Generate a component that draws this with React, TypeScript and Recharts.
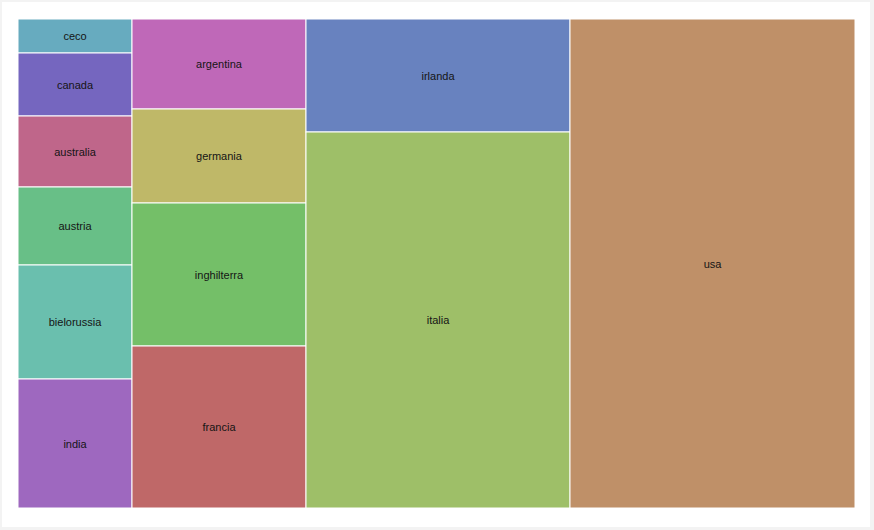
import { Treemap } from 'recharts'

const countries = ['ceco', 'canada', 'australia', 'austria', 'bielorussia', 'india', 'argentina', 'germania', 'inghilterra', 'francia', 'irlanda', 'italia', 'usa']
const counts = [39, 72, 81, 89, 130, 147, 157, 164, 249, 282, 298, 993, 1394]
const palette = ['#67abbf', '#7566bf', '#bf668a', '#68bf87', '#6abfae', '#9e68bf', '#bf68b8', '#bfb868', '#74bf68', '#bf6868', '#6882bf', '#9ebf68', '#bf9068']

const data = countries.map((name, i) => ({ name, size: counts[i], color: palette[i] }))

function Cell(props: any) {
  const { x, y, width, height, name, color, depth } = props
  if (depth !== 1) return null
  return (
    <g>
      <rect x={x} y={y} width={width} height={height} fill={color} stroke="#fff" strokeWidth={1} />
      <text
        x={x + width / 2}
        y={y + height / 2 + 4}
        textAnchor="middle"
        fontFamily="Liberation Sans, Arial, sans-serif"
        fontSize={11}
        stroke="none"
        style={{ fill: '#151515', stroke: 'none', fontWeight: 'normal' }}
      >
        {name}
      </text>
    </g>
  )
}

export default function App() {
  return (
    <div style={{ position: 'fixed', left: 0, top: 0, width: 874, height: 530, background: '#f3f3f3' }}>
      <div style={{ position: 'absolute', left: 2, top: 2, width: 868, height: 525, background: '#fff' }}>
        <div style={{ position: 'absolute', left: 16, top: 17 }}>
          <Treemap
            width={837}
            height={489}
            data={data}
            dataKey="size"
            nameKey="name"
            stroke="#fff"
            content={<Cell />}
            isAnimationActive={false}
          />
        </div>
      </div>
    </div>
  )
}
